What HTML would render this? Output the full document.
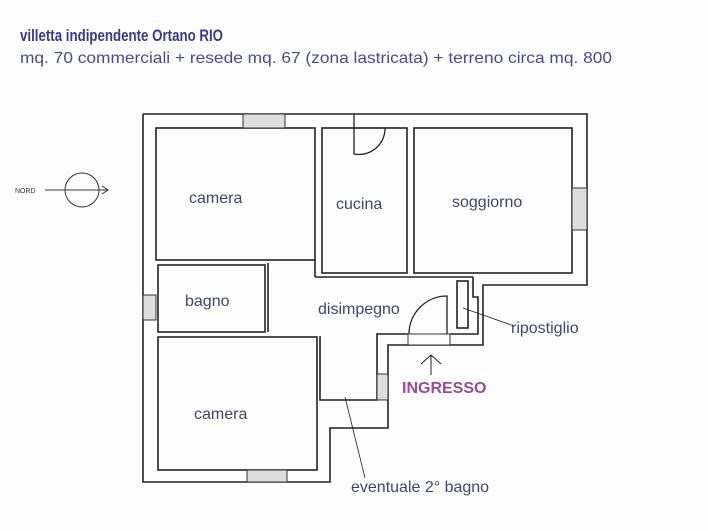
<!DOCTYPE html>
<html><head><style>
body{margin:0;width:708px;height:531px;background:#fdfdfd;overflow:hidden;font-family:"Liberation Sans",sans-serif}
svg{position:absolute;left:0;top:0}
</style></head><body>
<svg width="708" height="531" viewBox="0 0 708 531">
<g font-family="Liberation Sans, sans-serif">
<text x="20" y="41" font-size="16.5" font-weight="bold" fill="#3a3a8a" textLength="203" lengthAdjust="spacingAndGlyphs">villetta indipendente Ortano RIO</text>
<text x="20" y="63" font-size="16" fill="#4a4a90" textLength="592" lengthAdjust="spacingAndGlyphs">mq. 70 commerciali + resede mq. 67 (zona lastricata) + terreno circa mq. 800</text>
</g>
<g fill="none" stroke="#222" stroke-width="1.6">
<polyline points="143,114 587,114 587,285 483,285 483,345 388,345 388,428 330,428 330,482 143,482 143,114"/>
<polyline points="473,277 473,297 478,297 478,334 450,334"/>
<polyline points="408,334 377,334 377,400 320,400 320,336"/>
<rect x="156" y="128" width="159" height="132"/>
<rect x="322" y="128" width="85" height="145"/>
<rect x="414" y="128" width="158" height="145"/>
<rect x="158" y="265" width="107" height="67"/>
<rect x="158" y="337" width="159" height="133"/>
<line x1="315" y1="277" x2="473" y2="277"/>
<line x1="268" y1="263" x2="268" y2="332"/>
<line x1="315" y1="260" x2="315" y2="277"/>
<rect x="457" y="281" width="11" height="47"/>
<path d="M447,334 L447,296 A38,38 0 0 0 409,334" stroke-width="1.3"/>
<path d="M354,114 L354,154 A26,26 0 0 0 385,128" stroke-width="1.3"/>
<line x1="431" y1="375" x2="431" y2="355" stroke-width="1"/>
<polyline points="421,364 431,355 441,364" stroke-width="1"/>
<line x1="463" y1="308" x2="514" y2="326" stroke-width="0.8"/>
<line x1="345" y1="397" x2="365" y2="478" stroke-width="0.8"/>
</g>
<g fill="#ddd" stroke="#333" stroke-width="1">
<rect x="243" y="114" width="42" height="14"/>
<rect x="572" y="188" width="15" height="42"/>
<rect x="143" y="295" width="13" height="25"/>
<rect x="247" y="470" width="40" height="12"/>
<rect x="377" y="374" width="11" height="26"/>
<rect x="408" y="334" width="42" height="11" fill="#fdfdfd"/>
</g>
<g stroke="#333" fill="none" stroke-width="1">
<circle cx="82" cy="190" r="17"/>
<line x1="45" y1="190" x2="108" y2="190"/>
<polyline points="102,186 108,190 102,194"/>
</g>
<text x="15" y="193" font-size="7" fill="#333" font-family="Liberation Sans">NORD</text>
<g font-family="Liberation Sans, sans-serif" font-size="16" fill="#44446e">
<text x="189" y="203">camera</text>
<text x="336" y="209">cucina</text>
<text x="452" y="207">soggiorno</text>
<text x="185" y="306">bagno</text>
<text x="318" y="314">disimpegno</text>
<text x="511" y="333">ripostiglio</text>
<text x="194" y="419">camera</text>
<text x="351" y="492">eventuale 2° bagno</text>
<text x="402" y="393" font-weight="bold" fill="#9a4a9a">INGRESSO</text>
</g>
</svg>
</body></html>
